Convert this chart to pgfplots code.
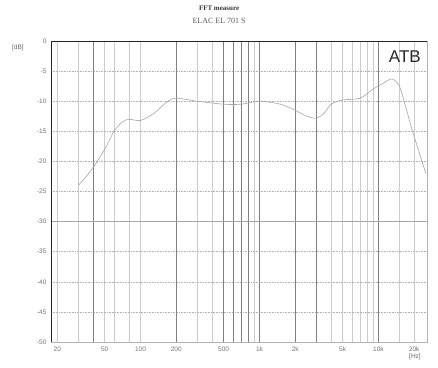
\documentclass[border=0pt]{standalone}
\usepackage{pgfplots}
\pgfplotsset{compat=1.18}
\usepackage{fontspec}
\setmainfont{Liberation Serif}
\newfontfamily\lsans{Liberation Sans}
\begin{document}
\begin{tikzpicture}
\begin{axis}[
  name=main,
  xmode=log,
  scale only axis, width=376pt, height=301pt,
  xmin=17.7, xmax=25600, ymin=-50, ymax=0,
  xtick={20,50,100,200,500,1000,2000,5000,10000,20000},
  xticklabels={20,50,100,200,500,1k,2k,5k,10k,20k},
  minor xtick={30,60,80,300,400,900,4000,6000,7000,8000,9000,15000},
  ytick={-50,-45,-40,-35,-30,-25,-20,-15,-10,-5,0},
  yticklabels={-50,-45,-40,-35,-30,-25,-20,-15,-10,-5,0},
  tick style={draw=none},
  ticklabel style={font=\lsans\fontsize{6.5}{7}\selectfont, text=black!55},
  xticklabel style={yshift=-1pt},
  yticklabel style={xshift=-1pt},
  xmajorgrids, xminorgrids, ymajorgrids,
  x grid style={black!20, line width=0.5pt},
  y grid style={black!30, line width=0.6pt, densely dotted},
  minor grid style={black!15, line width=0.5pt},
  axis line style={black!30},
  extra x ticks={40,200,500,600,700,800,1000,2000,3000,10000},
  extra x tick labels={},
  extra x tick style={grid=major, x grid style={black!50, line width=0.6pt, solid}},
  extra y ticks={-30},
  extra y tick labels={},
  extra y tick style={grid=major, y grid style={black!35, line width=0.5pt, solid}},
  clip=false,
]
\addplot[black!35, line width=0.6pt, smooth] coordinates {
(30,-24) (35,-22.5) (40,-21) (50,-18) (60,-15) (70,-13.5) (80,-13) (100,-13.2)
(130,-12) (170,-10) (200,-9.5) (300,-10) (500,-10.5) (700,-10.5) (1000,-10)
(1500,-10.5) (2000,-11.5) (2500,-12.5) (3000,-12.8) (3500,-12) (4000,-10.5)
(5000,-9.8) (7000,-9.5) (9000,-8) (11000,-7) (13000,-6.3) (15000,-7.5)
(17000,-11) (19000,-14.5) (22000,-18.5) (25000,-22)
};
\draw[black!85, line width=0.8pt] (rel axis cs:0,0) -- (rel axis cs:0,1) -- (rel axis cs:1,1);
\node[font=\lsans\fontsize{6.5}{7}\selectfont, text=black!60] at (axis description cs:-0.088,0.977) {[dB]};
\node[font=\lsans\fontsize{6.5}{7}\selectfont, text=black!60] at (axis description cs:0.968,-0.05) {[Hz]};
\node[font=\lsans\fontsize{17}{18}\selectfont, text=black!85] at (axis description cs:0.941,0.947) {ATB};
\node[font=\bfseries\fontsize{7}{8}\selectfont, text=black!80] at (axis description cs:0.447,1.110) {FFT measure};
\node[font=\fontsize{8}{9}\selectfont, text=black!65] at (axis description cs:0.447,1.066) {ELAC EL 701 S};
\end{axis}
\useasboundingbox (main.south west) ++(-51pt,-25pt) rectangle ++(438pt,367pt);
\end{tikzpicture}
\end{document}
